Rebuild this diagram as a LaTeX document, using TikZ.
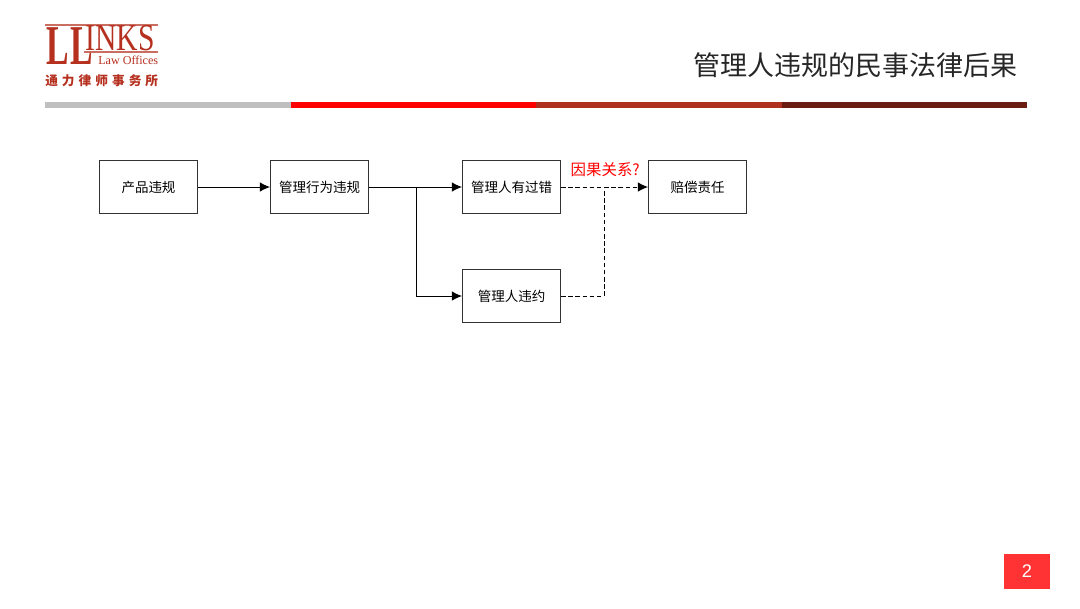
\documentclass[tikz,border=0pt]{standalone}
\usepackage{fontspec}
\setmainfont{Liberation Serif}
\setsansfont{Liberation Sans}
\newfontfamily\cjk{Noto Sans CJK SC}
\newfontfamily\cjklogo[LetterSpace=32]{Noto Sans CJK SC}
\usepackage{xcolor}
\usetikzlibrary{arrows.meta,positioning}
\definecolor{logored}{HTML}{B5301F}
\definecolor{pagered}{HTML}{FF3333}
\definecolor{barbrick}{HTML}{B03020}
\definecolor{bardark}{HTML}{6B1D12}
\tikzset{
  stepbox/.style={draw=black!80, line width=1pt, minimum width=2.44cm, minimum height=1.33cm, inner sep=0pt, font=\cjk\fontsize{9.6}{11}\selectfont},
  link/.style={->, line width=0.7pt},
  maybe/.style={line width=0.7pt, dash pattern=on 3.2pt off 1.9pt},
  logotext/.style={text=logored, inner sep=0pt, anchor=base west}
}
\begin{document}
\begin{tikzpicture}[>={Latex[length=7.2pt,width=6.8pt]}, node distance=1.8cm]
\useasboundingbox (0,0) rectangle (27,-15.2);
% logo
\fill[logored!70] (1.125,-0.6) rectangle (3.95,-0.66);
\fill[logored!70] (2.1,-1.27) rectangle (3.95,-1.32);
\node[logotext, xscale=0.6, font=\bfseries\fontsize{40}{40}\selectfont] (ll1) at (1.17,-1.6) {L};
\node[logotext, xscale=0.6, font=\bfseries\fontsize{40}{40}\selectfont] (ll2) at (1.77,-1.6) {L};
\node[logotext, xscale=0.78, font=\fontsize{27}{27}\selectfont] (inks) at (2.13,-1.26) {INKS};
\node[logotext, font=\fontsize{8.6}{9}\selectfont] (office) at (2.45,-1.6) {Law Offices};
\node[logotext, font=\cjklogo\bfseries\fontsize{9}{10}\selectfont] (cn) at (1.125,-2.13) {通力律师事务所};
% title and coloured rule
\node[anchor=east, inner sep=0pt, font=\cjk\fontsize{19.2}{22}\selectfont, text=black!85] (title) at (25.45,-1.62) {管理人违规的民事法律后果};
\fill[gray!50] (1.125,-2.55) rectangle (7.275,-2.71);
\fill[red] (7.275,-2.55) rectangle (13.4,-2.71);
\fill[barbrick] (13.4,-2.55) rectangle (19.55,-2.71);
\fill[bardark] (19.55,-2.55) rectangle (25.675,-2.71);
% flow
\node[stepbox] (product) at (3.7125,-4.675) {产品违规};
\node[stepbox, right=1.8cm of product] (act) {管理行为违规};
\node[stepbox, right=2.325cm of act] (fault) {管理人有过错};
\node[stepbox, right=2.175cm of fault] (liab) {赔偿责任};
\node[stepbox, below=1.36cm of fault] (breach) {管理人违约};
\coordinate[right=1.175cm of act] (split);
\coordinate[right=1.075cm of fault] (join);
\draw[link] (product) -- (act);
\draw[link] (act) -- (fault);
\draw[link] (split) |- (breach);
\draw[link, maybe] (fault) -- (liab);
\draw[maybe] (breach) -| (join);
\node[above=0.25cm of join, xshift=0.03cm, inner sep=0pt, text=red, font=\cjk\fontsize{11}{12}\selectfont] (cause) {因果关系?};
% page number
\node[fill=pagered, text=white, minimum width=1.15cm, minimum height=0.875cm, inner sep=0pt, font=\sffamily\fontsize{13}{15}\selectfont] (page) at (25.675,-14.29) {2};
\end{tikzpicture}
\end{document}
